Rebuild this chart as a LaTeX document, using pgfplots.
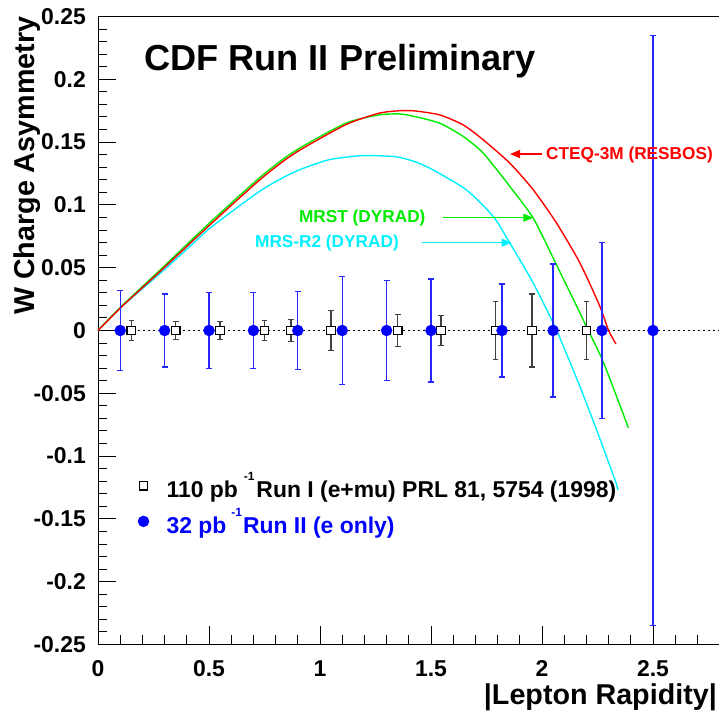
\documentclass[border=0pt]{standalone}
\usepackage{fontspec}
\setmainfont{Liberation Sans}
\usepackage{pgfplots}
\usepackage{pgfplotstable}
\pgfplotsset{compat=1.18}
\usetikzlibrary{arrows.meta}
\definecolor{rgreen}{RGB}{0,235,0}
\definecolor{rcyan}{RGB}{0,240,255}

\pgfplotstableread{
x y ey
0.15 0 0.008
0.35 0 0.007
0.55 0 0.007
0.75 0 0.008
0.87 0 0.009
1.05 0 0.016
1.35 0 0.013
1.545 0 0.012
1.79 0 0.023
1.955 0 0.029
2.2 0 0.023
}\runone

\pgfplotstableread{
x y ey
0.1 0 0.032
0.3 0 0.029
0.5 0 0.030
0.7 0 0.030
0.9 0 0.031
1.1 0 0.043
1.3 0 0.040
1.5 0 0.041
1.82 0 0.037
2.05 0 0.053
2.27 0 0.070
2.5 0 0.235
}\runtwo

\pgfplotstableread{
x y
0 0
0.107 0.0190
0.287 0.0482
0.512 0.0854
0.737 0.1212
0.887 0.1412
1.113 0.1636
1.263 0.1729
1.36 0.1750
1.428 0.1748
1.54 0.1716
1.646 0.1636
1.736 0.1517
1.856 0.1331
1.961 0.1119
2.066 0.0854
2.171 0.0537
2.261 0.0191
2.30 0.0
2.333 -0.0107
}\cteq

\pgfplotstableread{
x y
0 0
0.107 0.0195
0.287 0.0494
0.512 0.0872
0.737 0.1230
0.887 0.1429
1.113 0.1648
1.263 0.1716
1.36 0.1724
1.428 0.1703
1.54 0.1650
1.646 0.1544
1.736 0.1411
1.856 0.1145
1.961 0.0893
2.066 0.0520
2.171 0.0140
2.20 0.0030
2.276 -0.0250
2.389 -0.0774
}\mrst

\pgfplotstableread{
x y
0 0
0.107 0.0190
0.287 0.0466
0.437 0.0707
0.512 0.0826
0.737 0.1119
0.887 0.1264
1.037 0.1358
1.188 0.1392
1.338 0.1384
1.428 0.1344
1.51 0.1278
1.66 0.1119
1.781 0.0906
1.856 0.0694
1.961 0.0376
2.066 0.0
2.171 -0.0447
2.246 -0.0792
2.329 -0.1190
2.342 -0.1270
}\mrsr

\begin{document}
\bfseries
\begin{tikzpicture}
\begin{axis}[
  at={(98bp,70.5bp)}, anchor=south west,
  scale only axis, width=621.6bp, height=628bp,
  xmin=0, xmax=2.8, ymin=-0.25, ymax=0.25,
  axis line style={line width=1bp},
  tick pos=left, tick align=inside,
  major tick length=18bp, minor tick length=9bp,
  every tick/.style={black, line width=1bp},
  /pgf/number format/assume math mode=true,
  xtick={0,0.5,1,1.5,2,2.5},
  xticklabels={0,0.5,1,1.5,2,2.5},
  minor xtick={0.1,0.2,0.3,0.4,0.6,0.7,0.8,0.9,1.1,1.2,1.3,1.4,1.6,1.7,1.8,1.9,2.1,2.2,2.3,2.4,2.6,2.7},
  ytick={-0.25,-0.2,-0.15,-0.1,-0.05,0,0.05,0.1,0.15,0.2,0.25},
  yticklabels={-0.25,-0.2,-0.15,-0.1,-0.05,0,0.05,0.1,0.15,0.2,0.25},
  minor ytick={-0.24,-0.23,-0.22,-0.21,-0.19,-0.18,-0.17,-0.16,-0.14,-0.13,-0.12,-0.11,-0.09,-0.08,-0.07,-0.06,-0.04,-0.03,-0.02,-0.01,0.01,0.02,0.03,0.04,0.06,0.07,0.08,0.09,0.11,0.12,0.13,0.14,0.16,0.17,0.18,0.19,0.21,0.22,0.23,0.24},
  xticklabel style={font=\fontsize{23}{23}\selectfont\bfseries, inner sep=0pt, anchor=north, yshift=-16bp},
  yticklabel style={font=\fontsize{23}{23}\selectfont\bfseries, inner sep=0pt, anchor=east, xshift=-12bp},
  xlabel={|Lepton Rapidity|},
  ylabel={W Charge Asymmetry},
  xlabel style={font=\fontsize{28.8}{29}\selectfont\bfseries, inner sep=0pt, at={(axis description cs:0.9958,-0.0955)}, anchor=base east},
  ylabel style={font=\fontsize{28.8}{29}\selectfont\bfseries, inner sep=0pt, at={(axis description cs:-0.1014,1.0)}, anchor=base east},
  clip=false,
  legend cell align=left,
  legend style={at={(axis description cs:0.0644,0.2742)}, anchor=north west, draw=none, fill=none,
    inner sep=0pt, outer sep=0pt, row sep=9bp, column sep=0bp,
    font=\fontsize{23}{23}\selectfont\bfseries,
    nodes={inner sep=0pt, outer sep=0pt}},
  legend image code/.code={\path[draw=none,fill=none] (-5bp,-5bp) rectangle (23bp,5bp); \draw[#1] plot coordinates {(0bp,0bp)};},
]
% zero line
\addplot[forget plot, black, line width=1.2bp, dash pattern=on 1.5bp off 3.5bp] coordinates {(0,0) (2.8,0)};
% theory curves
\addplot[forget plot, rcyan, line width=1.4bp, smooth, tension=0.4] table[x=x,y=y] {\mrsr};
\addplot[forget plot, rgreen, line width=1.4bp, smooth, tension=0.4] table[x=x,y=y] {\mrst};
\addplot[forget plot, red, line width=1.4bp, smooth, tension=0.4] table[x=x,y=y] {\cteq};
% Run I
\addplot[only marks, mark=square*, mark size=4.3bp, mark options={draw=black, fill=white, line width=1.1bp},
  error bars/.cd, y dir=both, y explicit,
  error bar style={black!75, line width=1.3bp},
  error mark options={rotate=90, mark size=2.8bp, black!75, line width=1.3bp}]
  table[x=x, y=y, y error=ey] {\runone};
\addlegendentry{110 pb\kern6bp\raisebox{17bp}{\fontsize{12}{12}\selectfont -1}\kern2bp Run I (e+mu) PRL 81, 5754 (1998)}
% Run II
\addplot[only marks, mark=*, mark size=5.5bp, mark options={draw=blue, fill=blue},
  error bars/.cd, y dir=both, y explicit,
  error bar style={blue!85!white, line width=1.3bp},
  error mark options={rotate=90, mark size=3bp, blue!85!white, line width=1.3bp}]
  table[x=x, y=y, y error=ey] {\runtwo};
\addlegendentry{\textcolor{blue}{32 pb\kern5bp\raisebox{17bp}{\fontsize{12}{12}\selectfont -1}\kern1bp Run II (e only)}}
% title
\node[anchor=base west, inner sep=0pt, font=\fontsize{36.3}{36}\selectfont\bfseries] at (axis cs:0.207,0.2074) {CDF Run II Preliminary};
% annotations
\node[anchor=west, inner sep=0pt, text=red, font=\fontsize{17.3}{17}\selectfont\bfseries] at (axis cs:2.018,0.1400) {CTEQ-3M (RESBOS)};
\draw[red, line width=1.3bp, -{Triangle[length=10bp,width=8bp]}] (axis cs:1.999,0.1405) -- (axis cs:1.856,0.1405);
\node[anchor=west, inner sep=0pt, text=rgreen, font=\fontsize{17.3}{17}\selectfont\bfseries] at (axis cs:0.905,0.0896) {MRST (DYRAD)};
\draw[rgreen, line width=1.3bp, -{Triangle[length=10bp,width=8bp]}] (axis cs:1.555,0.0898) -- (axis cs:1.961,0.0898);
\node[anchor=west, inner sep=0pt, text=rcyan, font=\fontsize{17.3}{17}\selectfont\bfseries] at (axis cs:0.707,0.0694) {MRS-R2 (DYRAD)};
\draw[rcyan, line width=1.3bp, -{Triangle[length=10bp,width=8bp]}] (axis cs:1.458,0.0699) -- (axis cs:1.863,0.0699);
\end{axis}
\pgfresetboundingbox
\path (0,0) rectangle (719bp,715bp);
\end{tikzpicture}
\end{document}
